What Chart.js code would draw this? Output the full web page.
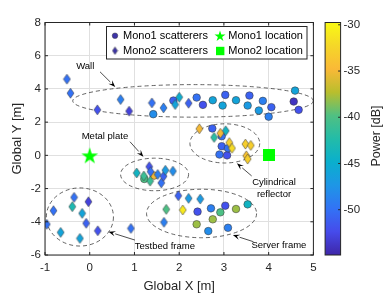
<!DOCTYPE html>
<html>
<head>
<meta charset="utf-8">
<script src="https://cdn.jsdelivr.net/npm/chart.js@4.4.1/dist/chart.umd.min.js"></script>
<style>
  html, body { margin: 0; padding: 0; background: #fff; }
  #wrap { width: 392px; height: 294px; position: relative; }
</style>
</head>
<body>
<div id="wrap"><canvas id="chart"></canvas></div>
<script>
// Mono1 scatterers (circles): X [m], Y [m], power [dB]
const mono1X = [1.42, 1.87, 2.39, 2.53, 2.75, 2.97, 3.03, 3.27, 3.57, 3.53, 3.87, 3.78, 4.06, 4.00, 4.59, 4.56, 4.67,
                1.22, 1.44,
                2.74, 2.95, 2.95, 2.90, 3.07, 3.09,
                2.41, 2.71, 2.92, 3.03, 3.27, 3.53, 2.39, 2.75, 2.65, 3.09];
const mono1Y = [2.48, 3.30, 3.48, 3.04, 3.32, 3.00, 3.64, 3.32, 3.60, 3.00, 3.28, 2.70, 2.90, 2.33, 3.90, 3.24, 2.74,
                -1.42, -1.22,
                1.62, 1.15, 0.55, 0.05, 0.00, 0.43,
                -3.39, -3.19, -3.43, -3.03, -3.23, -2.95, -4.15, -3.85, -4.56, -4.36];
const mono1Power = [-48, -51, -50, -52, -46, -46, -51, -46, -51, -47, -49, -47, -51, -49, -46, -54, -52,
                    -40, -35,
                    -51, -50, -51, -50, -52, -50,
                    -52, -49, -40, -52, -38, -44, -38, -38, -48, -49];

// Mono2 scatterers (diamonds)
const mono2X = [-0.51, -0.43, 0.17, 0.69, 0.88, 1.39, 1.65, 1.91, 2.00, 2.21,
                1.05, 1.21, 1.33, 1.36, 1.35, 1.52, 1.60, 1.65, 1.69, 1.86,
                2.45, 3.04, 2.78, 2.92, 3.12, 3.18, 3.48, 3.60, 3.50, 3.53,
                -0.35, -0.03, -0.39, -0.81, -0.17, -0.96, -0.08, -0.65, 0.18, -0.22, 0.92,
                1.98, 2.21, 2.47, 1.71, 2.08, 1.66];
const mono2Y = [4.59, 3.74, 2.74, 3.36, 2.66, 3.16, 2.86, 3.06, 3.50, 3.14,
                -1.06, -1.24, -0.68, -0.98, -1.55, -1.15, -1.66, -1.26, -0.90, -0.95,
                1.60, 1.48, 1.08, 1.33, 0.77, 0.43, 0.68, 0.60, -0.03, -0.22,
                -2.53, -2.79, -3.09, -3.33, -3.49, -4.15, -4.09, -4.64, -4.54, -5.00, -4.40,
                -2.43, -2.59, -2.63, -3.25, -3.29, -4.03];
const mono2Power = [-50, -50, -52, -49, -53, -50, -49, -46, -45, -51,
                    -44, -41, -52, -50, -41, -49, -50, -51, -47, -48,
                    -35, -44, -42, -35, -33, -32, -33, -33, -34, -33,
                    -50, -53, -43, -50, -46, -50, -51, -46, -52, -46, -50,
                    -51, -47, -47, -40, -31, -49];

// radar locations
const mono1Loc = [0, 0];
const mono2Loc = [4, 0];

const xTicks = [-1, 0, 1, 2, 3, 4, 5];
const yTicks = [-6, -4, -2, 0, 2, 4, 6, 8];
const powerTicks = [-50, -45, -40, -35, -30];
const powerMin = -54.9;
const powerMax = -29.75;

// dashed ellipses: centre x, centre y, half width, half height (data units)
const ellipses = [
  [2.31, 3.28, 2.69, 0.98],
  [1.45, -1.15, 0.76, 0.98],
  [3.02, 0.72, 0.78, 1.18],
  [-0.22, -3.71, 0.75, 1.75],
  [2.50, -3.50, 1.23, 1.46]
];

// labels with arrows (data units)
const notes = [
  { text: ['Wall'], at: [-0.1, 5.35], from: [0.23, 5.03], to: [0.57, 4.12] },
  { text: ['Metal plate'], at: [0.34, 1.17], from: [0.9, 0.82], to: [1.2, -0.08] },
  { text: ['Cylindrical', 'reflector'], at: [4.12, -1.65], from: [3.62, -1.24], to: [3.29, -0.48] },
  { text: ['Server frame'], at: [4.23, -5.44], from: [3.66, -5.2], to: [3.2, -4.8] },
  { text: ['Testbed frame'], at: [1.68, -5.46], from: [1.01, -5.1], to: [0.42, -4.6] }
];

// parula-like colormap
const parula = [
  [62, 38, 168], [70, 75, 235], [50, 115, 245], [30, 150, 230], [10, 175, 205],
  [35, 188, 168], [80, 192, 130], [185, 190, 45], [250, 185, 55], [245, 215, 40], [249, 250, 20]
];
function powerColor(p) {
  let t = (p - powerMin) / (powerMax - powerMin);
  t = Math.max(0, Math.min(1, t)) * (parula.length - 1);
  const i = Math.min(Math.floor(t), parula.length - 2);
  const f = t - i;
  const c = parula[i].map((v, k) => Math.round(v + (parula[i + 1][k] - v) * f));
  return `rgb(${c[0]},${c[1]},${c[2]})`;
}

const EDGE = 'rgba(55,55,55,0.9)';
const FONT = "'Liberation Sans', Arial, sans-serif";
const INK = '#262626';

const diamondCache = {};
function diamondImage(color, w, h) {
  const key = color + w + 'x' + h;
  if (diamondCache[key]) return diamondCache[key];
  const c = document.createElement('canvas');
  c.width = w + 2; c.height = h + 2;
  const g = c.getContext('2d');
  const cx = c.width / 2, cy = c.height / 2;
  g.beginPath();
  g.moveTo(cx, cy - h / 2);
  g.lineTo(cx + w / 2, cy);
  g.lineTo(cx, cy + h / 2);
  g.lineTo(cx - w / 2, cy);
  g.closePath();
  g.fillStyle = color;
  g.fill();
  g.lineWidth = 0.6;
  g.strokeStyle = EDGE;
  g.stroke();
  diamondCache[key] = c;
  return c;
}

function starPath(g, cx, cy, R) {
  const r = R * 0.382;
  g.beginPath();
  for (let i = 0; i < 10; i++) {
    const rad = i % 2 ? r : R;
    const a = -Math.PI / 2 + i * Math.PI / 5;
    g.lineTo(cx + rad * Math.cos(a), cy + rad * Math.sin(a));
  }
  g.closePath();
}
function starImage(R) {
  const c = document.createElement('canvas');
  c.width = c.height = Math.ceil(2 * R + 2);
  const g = c.getContext('2d');
  starPath(g, c.width / 2, c.height / 2 + R * 0.1, R);
  g.fillStyle = '#00ff00';
  g.fill();
  return c;
}
function squareImage(s) {
  const c = document.createElement('canvas');
  c.width = c.height = s;
  const g = c.getContext('2d');
  g.fillStyle = '#00ff00';
  g.fillRect(0, 0, s, s);
  return c;
}

const mono1Data = mono1X.map((x, i) => ({ x: x, y: mono1Y[i], p: mono1Power[i] }));
const mono2Data = mono2X.map((x, i) => ({ x: x, y: mono2Y[i], p: mono2Power[i] }));

// ellipses, arrows, box, legend and colorbar
const decor = {
  id: 'decor',
  beforeDatasetsDraw(chart) {
    const { ctx, scales: { x, y } } = chart;
    ctx.save();
    ctx.strokeStyle = '#3c3c3c';
    ctx.lineWidth = 0.8;
    ctx.setLineDash([4, 3]);
    ellipses.forEach(([cx, cy, hw, hh]) => {
      const px = x.getPixelForValue(cx), py = y.getPixelForValue(cy);
      const rx = Math.abs(x.getPixelForValue(cx + hw) - px);
      const ry = Math.abs(y.getPixelForValue(cy + hh) - py);
      ctx.beginPath();
      ctx.ellipse(px, py, rx, ry, 0, 0, Math.PI * 2);
      ctx.stroke();
    });
    ctx.restore();
  },
  afterDraw(chart) {
    const { ctx, chartArea: a, scales: { x, y } } = chart;
    ctx.save();

    // axes box with inward ticks
    ctx.strokeStyle = INK;
    ctx.lineWidth = 1;
    ctx.strokeRect(a.left, a.top, a.right - a.left, a.bottom - a.top);
    ctx.beginPath();
    xTicks.forEach(v => {
      const px = x.getPixelForValue(v);
      ctx.moveTo(px, a.bottom); ctx.lineTo(px, a.bottom - 3);
      ctx.moveTo(px, a.top); ctx.lineTo(px, a.top + 3);
    });
    yTicks.forEach(v => {
      const py = y.getPixelForValue(v);
      ctx.moveTo(a.left, py); ctx.lineTo(a.left + 3, py);
      ctx.moveTo(a.right, py); ctx.lineTo(a.right - 3, py);
    });
    ctx.stroke();

    // annotations
    ctx.fillStyle = '#000';
    ctx.strokeStyle = '#000';
    ctx.font = '9.5px ' + FONT;
    ctx.textAlign = 'center';
    ctx.textBaseline = 'middle';
    notes.forEach(n => {
      const tx = x.getPixelForValue(n.at[0]), ty = y.getPixelForValue(n.at[1]);
      n.text.forEach((t, i) => ctx.fillText(t, tx, ty + i * 11.3));
      const x0 = x.getPixelForValue(n.from[0]), y0 = y.getPixelForValue(n.from[1]);
      const x1 = x.getPixelForValue(n.to[0]), y1 = y.getPixelForValue(n.to[1]);
      const ang = Math.atan2(y1 - y0, x1 - x0);
      const hl = 7, hw = 2.6;
      const bx = x1 - hl * Math.cos(ang), by = y1 - hl * Math.sin(ang);
      ctx.lineWidth = 0.7;
      ctx.beginPath();
      ctx.moveTo(x0, y0); ctx.lineTo(bx, by);
      ctx.stroke();
      ctx.beginPath();
      ctx.moveTo(x1, y1);
      ctx.lineTo(bx + hw * Math.sin(ang), by - hw * Math.cos(ang));
      ctx.lineTo(x1 - hl * 0.6 * Math.cos(ang), y1 - hl * 0.6 * Math.sin(ang));
      ctx.lineTo(bx - hw * Math.sin(ang), by + hw * Math.cos(ang));
      ctx.closePath();
      ctx.fill();
    });

    // legend
    const lx = 106.5, ly = 26.5, lw = 200.5, lh = 32.5;
    ctx.fillStyle = '#fff';
    ctx.fillRect(lx, ly, lw, lh);
    ctx.strokeStyle = INK;
    ctx.lineWidth = 1;
    ctx.strokeRect(lx, ly, lw, lh);
    const r1 = 35.7, r2 = 51;
    ctx.fillStyle = '#3d34a8';
    ctx.beginPath();
    ctx.arc(115, r1, 2.8, 0, Math.PI * 2);
    ctx.fill();
    ctx.lineWidth = 0.5; ctx.strokeStyle = EDGE; ctx.stroke();
    ctx.drawImage(diamondImage('#3d34a8', 5, 7.5), 115 - 3.5, r2 - 4.75);
    starPath(ctx, 220, r1 + 0.6, 5.8);
    ctx.fillStyle = '#00ff00';
    ctx.fill();
    ctx.fillRect(216, r2 - 4.2, 8.4, 8.4);
    ctx.fillStyle = '#000';
    ctx.font = '11px ' + FONT;
    ctx.textAlign = 'left';
    ctx.fillText('Mono1 scatterers', 123, r1);
    ctx.fillText('Mono2 scatterers', 123, r2);
    ctx.fillText('Mono1 location', 228.3, r1);
    ctx.fillText('Mono2 location', 228.3, r2);

    // colorbar
    const cbL = a.right + 11.7, cbW = 15.5, cbT = a.top, cbB = a.bottom;
    const grad = ctx.createLinearGradient(0, cbB, 0, cbT);
    parula.forEach((c, i) => grad.addColorStop(i / (parula.length - 1), `rgb(${c[0]},${c[1]},${c[2]})`));
    ctx.fillStyle = grad;
    ctx.fillRect(cbL, cbT, cbW, cbB - cbT);
    ctx.strokeStyle = INK;
    ctx.lineWidth = 1;
    ctx.strokeRect(cbL, cbT, cbW, cbB - cbT);
    ctx.fillStyle = INK;
    ctx.font = '11.5px ' + FONT;
    ctx.textAlign = 'left';
    ctx.beginPath();
    powerTicks.forEach(v => {
      const py = cbT + (powerMax - v) / (powerMax - powerMin) * (cbB - cbT);
      ctx.moveTo(cbL + cbW, py); ctx.lineTo(cbL + cbW - 2.5, py);
      ctx.fillText(String(v), cbL + cbW + 2.8, py);
    });
    ctx.stroke();
    ctx.translate(377, 136);
    ctx.rotate(-Math.PI / 2);
    ctx.textAlign = 'center';
    ctx.font = '12.5px ' + FONT;
    ctx.fillText('Power [dB]', 0, 0);
    ctx.restore();
  }
};

new Chart(document.getElementById('chart'), {
  type: 'scatter',
  data: {
    datasets: [
      {
        label: 'Mono1 scatterers',
        data: mono1Data,
        order: 2,
        pointStyle: 'circle',
        pointRadius: 3.8,
        pointBorderWidth: 0.6,
        pointBorderColor: EDGE,
        pointBackgroundColor: c => powerColor(c.raw.p)
      },
      {
        label: 'Mono2 scatterers',
        data: mono2Data,
        order: 1,
        pointStyle: c => diamondImage(powerColor(c.raw.p), 7, 10),
        pointRadius: 5
      },
      {
        label: 'Mono1 location',
        data: [{ x: mono1Loc[0], y: mono1Loc[1] }],
        order: 0,
        pointStyle: starImage(8.8),
        pointRadius: 9
      },
      {
        label: 'Mono2 location',
        data: [{ x: mono2Loc[0], y: mono2Loc[1] }],
        order: 0,
        pointStyle: squareImage(12),
        pointRadius: 6
      }
    ]
  },
  options: {
    responsive: true,
    maintainAspectRatio: false,
    animation: false,
    events: [],
    layout: { padding: { top: 22.5, right: 78.6, left: 0, bottom: 0 } },
    plugins: { legend: { display: false }, tooltip: { enabled: false } },
    scales: {
      x: {
        type: 'linear', min: -1, max: 5,
        afterBuildTicks: s => { s.ticks = xTicks.map(v => ({ value: v })); },
        afterFit: s => { s.height = 39; },
        grid: { color: '#e0e0e0', lineWidth: 1, drawTicks: false },
        border: { display: false },
        ticks: { padding: 6, color: INK, font: { family: FONT, size: 11.5 }, callback: v => String(v) },
        title: { display: true, text: 'Global X [m]', color: INK, font: { family: FONT, size: 13 }, padding: { top: 0, bottom: 0 } }
      },
      y: {
        type: 'linear', min: -6, max: 8,
        afterBuildTicks: s => { s.ticks = yTicks.map(v => ({ value: v })); },
        afterFit: s => { s.width = 45; },
        grid: { color: '#e0e0e0', lineWidth: 1, drawTicks: false },
        border: { display: false },
        ticks: { padding: 4, color: INK, font: { family: FONT, size: 11.5 }, callback: v => String(v) },
        title: { display: true, text: 'Global Y [m]', color: INK, font: { family: FONT, size: 13 }, padding: { top: 10, bottom: 0 } }
      }
    }
  },
  plugins: [decor]
});
</script>
</body>
</html>
